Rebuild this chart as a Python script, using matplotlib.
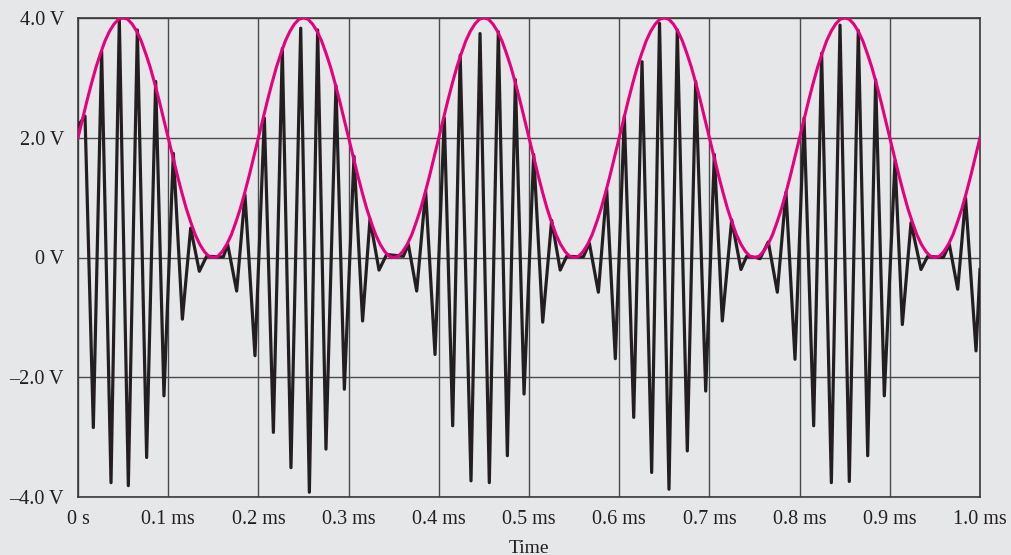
import numpy as np
import matplotlib.pyplot as plt

# AM signal: peaks and troughs of the sampled waveform (time in ms, volts)
sig_t = [0.0, 0.0078, 0.0170, 0.0262, 0.0366, 0.0458, 0.0558, 0.0658, 0.0761, 0.0861, 0.0953,
         0.1057, 0.1157, 0.1249, 0.1345, 0.1426, 0.1611, 0.1659, 0.1759, 0.1851, 0.1962,
         0.2066, 0.2166, 0.2265, 0.2361, 0.2469, 0.2565, 0.2657, 0.2749, 0.2860, 0.2953,
         0.3060, 0.3155, 0.3237, 0.3337, 0.3422, 0.3607, 0.3662, 0.3755, 0.3854, 0.3958,
         0.4061, 0.4154, 0.4237, 0.4357, 0.4457, 0.4560, 0.4660, 0.4760, 0.4849, 0.4945,
         0.5052, 0.5152, 0.5251, 0.5346, 0.5418, 0.5602, 0.5669, 0.5769, 0.5861, 0.5957,
         0.6057, 0.6161, 0.6253, 0.6360, 0.6447, 0.6552, 0.6644, 0.6755, 0.6848, 0.6959,
         0.7055, 0.7143, 0.7247, 0.7350, 0.7413, 0.7520, 0.7561, 0.7653, 0.7753, 0.7849,
         0.7949, 0.8049, 0.8156, 0.8244, 0.8352, 0.8448, 0.8551, 0.8651, 0.8755, 0.8843,
         0.8939, 0.9058, 0.9139, 0.9235, 0.9346, 0.9420, 0.9593, 0.9660, 0.9753, 0.9840,
         0.9956, 1.0]
sig_v = [2.2, 2.36, -2.84, 3.44, -3.76, 3.97, -3.81, 3.80, -3.34, 2.94, -2.31,
         1.74, -1.03, 0.49, -0.23, 0.02, 0.01, 0.22, -0.56, 1.05, -1.64,
         2.33, -2.92, 3.49, -3.51, 3.83, -3.92, 3.80, -3.20, 2.87, -2.20,
         1.69, -1.06, 0.64, -0.21, 0.05, 0.02, 0.22, -0.56, 1.11, -1.62,
         2.33, -2.81, 3.38, -3.73, 3.74, -3.76, 3.77, -3.31, 2.97, -2.28,
         1.72, -1.08, 0.62, -0.21, 0.02, 0.01, 0.24, -0.58, 1.14, -1.69,
         2.36, -2.67, 3.27, -3.59, 3.91, -3.87, 3.80, -3.23, 2.94, -2.23,
         1.72, -1.06, 0.63, -0.20, 0.02, 0.0, -0.02, 0.26, -0.58, 1.09,
         -1.70, 2.33, -2.81, 3.41, -3.76, 3.88, -3.74, 3.79, -3.31, 2.97,
         -2.31, 1.62, -1.12, 0.58, -0.20, 0.02, 0.0, 0.22, -0.53, 0.99,
         -1.56, -0.20]

# envelope, one 0.2 ms period read at 0.005 ms steps (repeats 5 times)
env_period = [2.0, 2.31, 2.62, 2.91, 3.18, 3.41, 3.62, 3.78, 3.90, 3.98,
              4.0, 3.98, 3.90, 3.78, 3.62, 3.41, 3.18, 2.91, 2.62, 2.31,
              2.0, 1.69, 1.38, 1.09, 0.82, 0.59, 0.38, 0.22, 0.10, 0.02,
              0.0, 0.02, 0.10, 0.22, 0.38, 0.59, 0.82, 1.09, 1.38, 1.69]
env_v = np.append(np.tile(env_period, 5), 2.0)
env_t = np.arange(len(env_v)) * 0.005

x_ticks = [0, 0.1, 0.2, 0.3, 0.4, 0.5, 0.6, 0.7, 0.8, 0.9, 1.0]
x_labels = ['0 s', '0.1 ms', '0.2 ms', '0.3 ms', '0.4 ms', '0.5 ms',
            '0.6 ms', '0.7 ms', '0.8 ms', '0.9 ms', '1.0 ms']
y_ticks = [-4, -2, 0, 2, 4]
y_labels = ['\u20134.0 V', '\u20132.0 V', '0 V', '2.0 V', '4.0 V']

bg = '#e6e7e8'
plt.rcParams['font.family'] = ['Liberation Serif', 'DejaVu Serif']

fig = plt.figure(figsize=(10.11, 5.55), dpi=100, facecolor=bg)
ax = fig.add_axes([78/1011, 1 - 497/555, (980-78)/1011, (497-18)/555])
ax.set_facecolor(bg)

ax.plot(sig_t, sig_v, color='#231f20', lw=2.3, zorder=3)
ax.plot(env_t, env_v, color='#e6007e', lw=2.2, zorder=4)

ax.set_xlim(0, 1.0)
ax.set_ylim(-4, 4)
ax.set_xticks(x_ticks)
ax.set_xticklabels(x_labels)
ax.set_yticks(y_ticks)
ax.set_yticklabels(y_labels)
ax.tick_params(length=0, labelsize=14.5, colors='#231f20')
ax.tick_params(axis='x', pad=9)
ax.tick_params(axis='y', pad=10)
ax.grid(True, color='#4a4a4a', lw=1.0)
ax.set_axisbelow(True)
for s in ax.spines.values():
    s.set_color('#3a3a3a')
    s.set_linewidth(1.2)
ax.set_xlabel('Time', fontsize=14, color='#231f20', labelpad=8)

fig.savefig('out.png', dpi=100, facecolor=bg)
